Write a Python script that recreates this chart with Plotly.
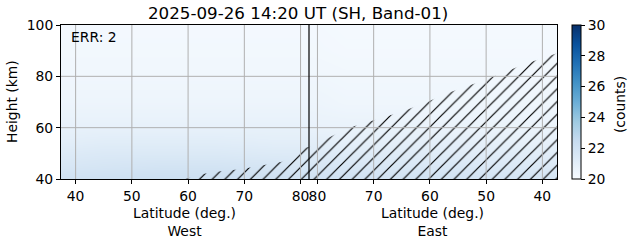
import plotly.graph_objects as go

# ---------------- data ----------------
GAP = 3.0          # separation (deg) between the West and East halves on the shared axis
LAT_EDGE = 37.4    # outer latitude at both plot edges

heights = [40, 45, 50, 55, 60, 70, 80, 90, 100]
west_lat = [37.4, 45, 55, 65, 75, 80]
east_lat = [80, 75, 65, 55, 45, 37.4]
# counts, rows = heights, cols = west_lat + east_lat
counts = [
    [22.0, 22.1, 22.2, 22.2, 22.1, 22.0, 22.0, 22.0, 21.9, 21.9, 21.8, 21.8],
    [21.6, 21.7, 21.8, 21.8, 21.7, 21.6, 21.6, 21.6, 21.5, 21.5, 21.4, 21.4],
    [21.3, 21.4, 21.4, 21.4, 21.3, 21.3, 21.3, 21.2, 21.2, 21.1, 21.1, 21.1],
    [21.0, 21.1, 21.1, 21.1, 21.0, 21.0, 21.0, 20.9, 20.9, 20.9, 20.8, 20.8],
    [20.8, 20.8, 20.8, 20.8, 20.8, 20.8, 20.7, 20.7, 20.7, 20.6, 20.6, 20.6],
    [20.5, 20.5, 20.5, 20.5, 20.5, 20.5, 20.5, 20.4, 20.4, 20.4, 20.4, 20.4],
    [20.35, 20.35, 20.35, 20.35, 20.35, 20.35, 20.35, 20.3, 20.3, 20.3, 20.3, 20.3],
    [20.25, 20.25, 20.25, 20.25, 20.25, 20.25, 20.25, 20.2, 20.2, 20.2, 20.2, 20.2],
    [20.2, 20.2, 20.2, 20.2, 20.2, 20.2, 20.2, 20.15, 20.15, 20.15, 20.15, 20.15],
]

# hatched (masked) region: upper boundary
hatch_west_lat = [58.5, 60, 62.6, 65, 69.6, 72, 76.7, 78.5, 80]
hatch_west_top = [40, 40.3, 41.9, 42.8, 43.9, 44.8, 46.7, 49, 52]
hatch_east_lat = [80, 79.5, 74.5, 68.5, 65, 60, 56.3, 50, 43.6, 37.4]
hatch_east_top = [53, 54.5, 59.9, 63.8, 66.2, 70.5, 73.9, 78.8, 84.4, 89]

tick_lats = [40, 50, 60, 70, 80]
height_ticks = [40, 60, 80, 100]
cbar_ticks = [20, 22, 24, 26, 28, 30]
title = "2025-09-26 14:20 UT (SH, Band-01)"
err_text = "ERR: 2"
cbar_title = "(counts)"


def west_u(lat):
    return lat


def east_u(lat):
    return 80 + GAP + (80 - lat)


FONT = "DejaVu Sans"
FS = 13.9
FT = 16.7
fig = go.Figure()

x_cols = [west_u(l) for l in west_lat] + [east_u(l) for l in east_lat]
fig.add_trace(go.Heatmap(
    x=x_cols, y=heights, z=counts,
    colorscale="Blues", zmin=20, zmax=30, zsmooth="best",
    colorbar=dict(
        x=(572 - 61) / 496, xanchor="left", xref="paper", xpad=0, ypad=0,
        thickness=9, len=1, lenmode="fraction",
        y=0.5, yanchor="middle", outlinewidth=1, outlinecolor="black",
        tickvals=cbar_ticks, ticks="outside", ticklen=4, tickcolor="black",
        tickfont=dict(family=FONT, size=FS, color="black"),
    ),
    hoverinfo="skip",
))

# hatch polygon
hx = [west_u(l) for l in hatch_west_lat] + [east_u(l) for l in hatch_east_lat]
hy = hatch_west_top + hatch_east_top
hx = hx + [east_u(hatch_east_lat[-1]), west_u(hatch_west_lat[0])]
hy = hy + [heights[0], heights[0]]
fig.add_trace(go.Scatter(
    x=hx, y=hy, mode="lines", line=dict(width=0, color="rgba(0,0,0,0)"),
    fill="toself", fillcolor="rgba(0,0,0,0)",
    fillpattern=dict(shape="/", fgcolor="black", bgcolor="rgba(0,0,0,0)",
                     size=9, solidity=0.13, fillmode="replace"),
    showlegend=False, hoverinfo="skip",
))

xtickvals = [west_u(l) for l in tick_lats] + [east_u(l) for l in tick_lats]
xticktext = [str(l) for l in tick_lats] + [str(l) for l in tick_lats]

# grid lines drawn above the image
for xv in xtickvals:
    fig.add_shape(type="line", xref="x", yref="paper", x0=xv, x1=xv, y0=0, y1=1,
                  line=dict(color="#b0b0b0", width=1), layer="above")
for yv in height_ticks[1:-1]:
    fig.add_shape(type="line", xref="paper", yref="y", x0=0, x1=1, y0=yv, y1=yv,
                  line=dict(color="#b0b0b0", width=1), layer="above")
# divider between West and East halves
mid = (west_u(80) + east_u(80)) / 2
fig.add_shape(type="line", xref="x", yref="paper", x0=mid, x1=mid, y0=0, y1=1,
              line=dict(color="black", width=1.2), layer="above")

x_min = west_u(LAT_EDGE)
x_max = east_u(LAT_EDGE)

fig.update_layout(
    width=631, height=243,
    margin=dict(l=61, r=74, t=25, b=64, autoexpand=False),
    paper_bgcolor="white", plot_bgcolor="white",
    font=dict(family=FONT, size=FS, color="black"),
    xaxis=dict(range=[x_min, x_max], tickvals=xtickvals, ticktext=xticktext,
               ticks="outside", ticklen=4, tickcolor="black", showgrid=False,
               showline=True, linecolor="black", linewidth=1, mirror=True,
               zeroline=False, tickfont=dict(size=FS), layer="above traces"),
    yaxis=dict(range=[40, 100], tickvals=height_ticks,
               ticks="outside", ticklen=4, tickcolor="black", showgrid=False,
               showline=True, linecolor="black", linewidth=1, mirror=True,
               zeroline=False, tickfont=dict(size=FS), layer="above traces"),
    showlegend=False,
)

fig.add_annotation(text=title, xref="paper", yref="paper",
                   x=(298 - 61) / 496, y=1, yanchor="bottom", xanchor="center",
                   yshift=0, showarrow=False, font=dict(size=FT))
fig.add_annotation(text=err_text, xref="paper", yref="paper",
                   x=0.016, y=0.985, xanchor="left", yanchor="top",
                   showarrow=False, font=dict(size=FS))
fig.add_annotation(text="Latitude (deg.)<br>West", xref="paper", yref="paper",
                   x=(184.5 - 61) / 496, y=-0.155, xanchor="center", yanchor="top",
                   showarrow=False, font=dict(size=FS))
fig.add_annotation(text="Latitude (deg.)<br>East", xref="paper", yref="paper",
                   x=(432 - 61) / 496, y=-0.155, xanchor="center", yanchor="top",
                   showarrow=False, font=dict(size=FS))
fig.add_annotation(text="Height (km)", xref="paper", yref="paper",
                   x=(12 - 61) / 496, y=0.5, xanchor="center", yanchor="middle",
                   textangle=-90, showarrow=False, font=dict(size=FS))
fig.add_annotation(text=cbar_title, xref="paper", yref="paper",
                   x=(620 - 61) / 496, y=0.48, xanchor="center", yanchor="middle",
                   textangle=-90, showarrow=False, font=dict(size=FS))

fig.write_html("out.html")
